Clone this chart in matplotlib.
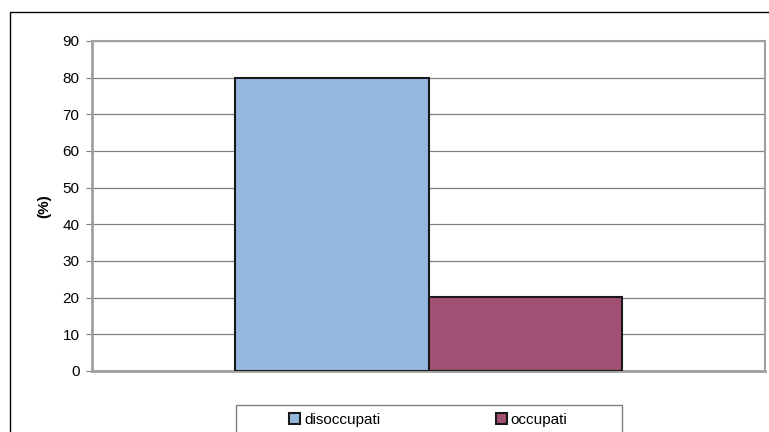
import matplotlib
matplotlib.use('Agg')
from matplotlib import pyplot as plt
from matplotlib.patches import Rectangle

series = ['disoccupati', 'occupati']
values = [79.8, 20.2]
colors = ['#95b8e1', '#a05073']
yticks = list(range(0, 91, 10))

plt.rcParams['font.family'] = ['Liberation Sans', 'DejaVu Sans']

fig = plt.figure(figsize=(7.69, 4.32), dpi=100)
W, H = 769, 432
ax = fig.add_axes([92/W, 1-371/H, (765-92)/W, 330/H])

# outer chart frame
fig.patches.append(Rectangle((10/W, -0.1), 1.0, 1-12/H+0.1, transform=fig.transFigure,
                             fill=False, edgecolor='black', linewidth=1.0))
# legend frame (drawn separately so the items can sit in the middle)
fig.patches.append(Rectangle((236/W, -0.1), 386/W, 0.1+1-405/H, transform=fig.transFigure,
                             fill=False, edgecolor='#808080', linewidth=1.0))

bw = 0.2868
xs = [0.5 - bw/2, 0.5 + bw/2]
for x, v, c, s in zip(xs, values, colors, series):
    ax.bar(x, v, width=bw, color=c, edgecolor='#1a1a1a', linewidth=1.5, label=s, zorder=3)

ax.set_xlim(0, 1)
ax.set_ylim(0, 90)
ax.set_yticks(yticks)
ax.set_xticks([])
ax.grid(axis='y', color='#808080', linewidth=0.9, zorder=0)
for side in ['top', 'right', 'left', 'bottom']:
    ax.spines[side].set_color('#a0a0a0')
ax.spines['left'].set_linewidth(2)
ax.spines['bottom'].set_linewidth(2)
ax.spines['top'].set_linewidth(1.5)
ax.spines['right'].set_linewidth(1.5)
ax.tick_params(axis='y', labelsize=11, length=4, color='#808080', pad=5)
ax.set_ylabel('(%)', fontsize=11, fontweight='bold', labelpad=8)

ax.legend(loc='center', bbox_to_anchor=(0.5, (371-420)/330), ncol=2, frameon=False,
          fontsize=11, handlelength=0.7, handleheight=0.7, handletextpad=0.25,
          columnspacing=7.6, borderpad=0, borderaxespad=0)

fig.savefig('out.png', dpi=100)
